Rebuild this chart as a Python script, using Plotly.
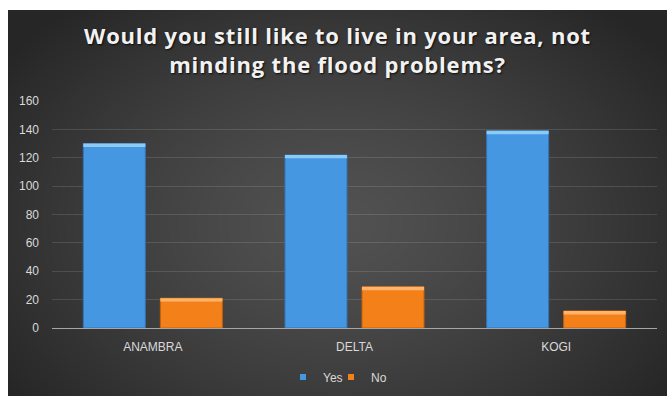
import base64
import struct
import zlib

import numpy as np
import plotly.graph_objects as go

# Survey responses per state
states = ["ANAMBRA", "DELTA", "KOGI"]
yes_counts = [130, 122, 139]
no_counts = [21, 29, 12]
y_ticks = [0, 20, 40, 60, 80, 100, 120, 140, 160]

TITLE_LINES = ["Would you still like to live in your area, not",
               "minding the flood problems?"]

W, H = 670, 396
# chart box inside the page (left, top, right, bottom)
BOX = (8, 10, 667, 396)
# plot area margins
ML, MR, MT, MB = 52, 13, 101, 68
PW, PH = W - ML - MR, H - MT - MB

BLUE = "#4697e2"
BLUE_CAP = "#8ccbf6"
BLUE_EDGE = "#3373b4"
ORANGE = "#f4801a"
ORANGE_CAP = "#ffb36b"
ORANGE_EDGE = "#c4600a"
TEXT = "#d9d9d9"


def png_uri(arr):
    """Encode an HxWx3 uint8 array as a PNG data URI."""
    h, w, _ = arr.shape
    raw = b"".join(b"\x00" + arr[i].tobytes() for i in range(h))

    def chunk(tag, data):
        return (struct.pack(">I", len(data)) + tag + data
                + struct.pack(">I", zlib.crc32(tag + data) & 0xFFFFFFFF))

    png = (b"\x89PNG\r\n\x1a\n"
           + chunk(b"IHDR", struct.pack(">IIBBBBB", w, h, 8, 2, 0, 0, 0))
           + chunk(b"IDAT", zlib.compress(raw, 9))
           + chunk(b"IEND", b""))
    return "data:image/png;base64," + base64.b64encode(png).decode()


# radial dark-gray backdrop for the chart box
bw, bh = BOX[2] - BOX[0], BOX[3] - BOX[1]
yy, xx = np.mgrid[0:bh, 0:bw].astype(float)
cx, cy = bw / 2, bh * 0.55
r = np.sqrt(((xx - cx) / (bw * 0.62)) ** 2 + ((yy - cy) / (bh * 0.75)) ** 2)
r = np.clip(r, 0, 1)
inner, outer = 82.0, 38.0
shade = (inner + (outer - inner) * r ** 1.3).astype(np.uint8)
bg = np.repeat(shade[:, :, None], 3, axis=2)
bg_uri = png_uri(bg)

cap = 2.4  # light bevel strip height on each bar, in data units

fig = go.Figure()
fig.add_trace(go.Bar(
    x=states, y=yes_counts, name="Yes", offsetgroup="yes",
    marker=dict(color=BLUE, line=dict(color=BLUE_EDGE, width=1)),
    showlegend=False, hoverinfo="x+y",
))
fig.add_trace(go.Bar(
    x=states, y=[cap] * len(states), base=[v - cap for v in yes_counts],
    offsetgroup="yes", marker=dict(color=BLUE_CAP, line=dict(width=0)),
    showlegend=False, hoverinfo="skip",
))
fig.add_trace(go.Bar(
    x=states, y=no_counts, name="No", offsetgroup="no",
    marker=dict(color=ORANGE, line=dict(color=ORANGE_EDGE, width=1)),
    showlegend=False, hoverinfo="x+y",
))
fig.add_trace(go.Bar(
    x=states, y=[cap] * len(states), base=[v - cap for v in no_counts],
    offsetgroup="no", marker=dict(color=ORANGE_CAP, line=dict(width=0)),
    showlegend=False, hoverinfo="skip",
))

# legend entries as small squares, one legend box each for tight spacing
fig.add_trace(go.Scatter(
    x=[None], y=[None], mode="markers", name="Yes", legend="legend",
    marker=dict(symbol="square", size=6, color=BLUE),
))
fig.add_trace(go.Scatter(
    x=[None], y=[None], mode="markers", name="No", legend="legend2",
    marker=dict(symbol="square", size=6, color=ORANGE),
))

title_text = "<br>".join(
    f"<span style='letter-spacing:0.8px'>{line}</span>" for line in TITLE_LINES
)

legend_common = dict(
    orientation="h", yref="container", y=1 - 377 / H, yanchor="middle",
    xref="container", xanchor="left",
    font=dict(size=12, color=TEXT), bgcolor="rgba(0,0,0,0)", itemwidth=30,
)

fig.update_layout(
    width=W, height=H,
    margin=dict(l=ML, r=MR, t=MT, b=MB, autoexpand=False),
    paper_bgcolor="white",
    plot_bgcolor="rgba(0,0,0,0)",
    barmode="group",
    bargap=0.236,
    bargroupgap=0.195,
    font=dict(family="Liberation Sans, Arial, sans-serif", size=12, color=TEXT),
    title=dict(
        text=title_text,
        x=(BOX[0] + BOX[2]) / 2 / W, xanchor="center",
        y=1 - 44 / H, yanchor="middle",
        font=dict(family="Open Sans, sans-serif", size=22, color="#f2f2f2",
                  weight="bold", shadow="1px 1px 2px rgba(0,0,0,0.8)"),
    ),
    xaxis=dict(
        showgrid=False, showline=True, linecolor="#a6a6a6", linewidth=1,
        ticks="", ticklabelstandoff=8, tickfont=dict(size=12, color=TEXT),
        fixedrange=True, automargin=False,
    ),
    yaxis=dict(
        range=[0, 160], tickvals=y_ticks, showgrid=True,
        gridcolor="rgba(255,255,255,0.12)", gridwidth=1,
        zeroline=False, showline=False, ticks="", ticklabelstandoff=12,
        tickfont=dict(size=12, color=TEXT), fixedrange=True, automargin=False,
    ),
    legend=dict(legend_common, x=283 / W),
    legend2=dict(legend_common, x=331 / W),
    images=[dict(
        source=bg_uri, xref="paper", yref="paper",
        x=(BOX[0] - ML) / PW, y=(H - MB - BOX[1]) / PH,
        sizex=bw / PW, sizey=bh / PH,
        xanchor="left", yanchor="top", sizing="stretch", layer="below",
    )],
)

fig.write_html("out.html")
